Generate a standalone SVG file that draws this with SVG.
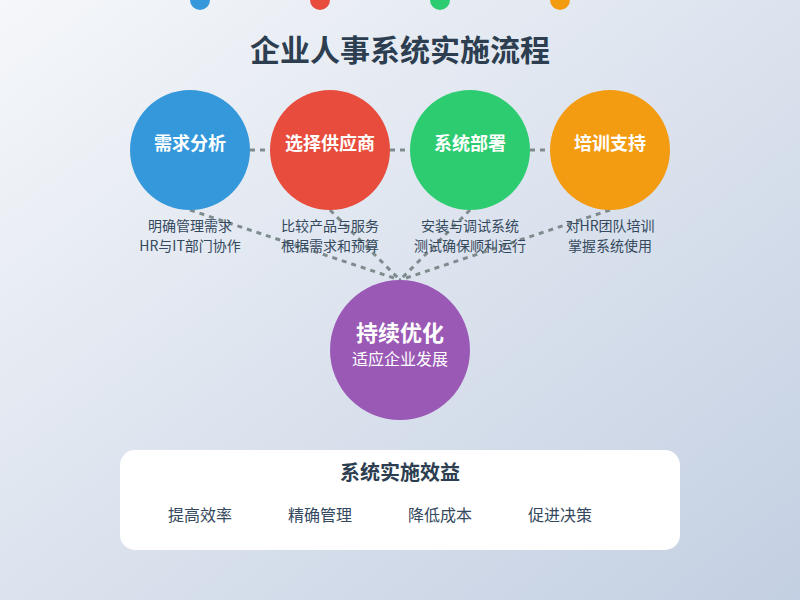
<svg xmlns="http://www.w3.org/2000/svg" width="800" height="600" viewBox="0 0 800 600">
<defs>
<linearGradient id="bg" x1="0" y1="0" x2="1" y2="1">
<stop offset="0" stop-color="#f5f7fa"/>
<stop offset="1" stop-color="#c3cfe2"/>
</linearGradient>
<style>
text{font-family:"Noto Sans CJK SC","Liberation Sans",sans-serif;text-anchor:middle}
.title{font-size:30px;font-weight:bold;fill:#2c3e50}
.nl{font-size:18px;font-weight:bold;fill:#fff}
.desc{font-size:14px;fill:#34495e}
.conn{stroke:#7f8c8d;stroke-width:3;stroke-dasharray:5,5;fill:none}
.bt{font-size:20px;font-weight:bold;fill:#2c3e50}
.bi{font-size:16px;fill:#34495e}
</style>
</defs>
<rect width="800" height="600" fill="url(#bg)"/>
<g id="dots">
<circle cx="200" cy="0" r="10" fill="#3498db"/>
<circle cx="320" cy="0" r="10" fill="#e74c3c"/>
<circle cx="440" cy="0" r="10" fill="#2ecc71"/>
<circle cx="560" cy="0" r="10" fill="#f39c12"/>
</g>
<text class="title" x="400" y="61">企业人事系统实施流程</text>
<g id="connectors">
<line class="conn" x1="190" y1="150" x2="610" y2="150"/>
<line class="conn" x1="190" y1="210" x2="400" y2="280"/>
<line class="conn" x1="330" y1="210" x2="400" y2="280"/>
<line class="conn" x1="470" y1="210" x2="400" y2="280"/>
<line class="conn" x1="610" y1="210" x2="400" y2="280"/>
</g>
<g id="n1">
<circle cx="190" cy="150" r="60" fill="#3498db"/>
<text class="nl" x="190" y="150">需求分析</text>
<text class="desc" x="190" y="231">明确管理需求</text>
<text class="desc" x="190" y="251">HR与IT部门协作</text>
</g>
<g id="n2">
<circle cx="330" cy="150" r="60" fill="#e74c3c"/>
<text class="nl" x="330" y="150">选择供应商</text>
<text class="desc" x="330" y="231">比较产品与服务</text>
<text class="desc" x="330" y="251">根据需求和预算</text>
</g>
<g id="n3">
<circle cx="470" cy="150" r="60" fill="#2ecc71"/>
<text class="nl" x="470" y="150">系统部署</text>
<text class="desc" x="470" y="231">安装与调试系统</text>
<text class="desc" x="470" y="251">测试确保顺利运行</text>
</g>
<g id="n4">
<circle cx="610" cy="150" r="60" fill="#f39c12"/>
<text class="nl" x="610" y="150">培训支持</text>
<text class="desc" x="610" y="231">对HR团队培训</text>
<text class="desc" x="610" y="251">掌握系统使用</text>
</g>
<g id="n5">
<circle cx="400" cy="350" r="70" fill="#9b59b6"/>
<text x="400" y="341" style="font-size:22px;font-weight:bold;fill:#fff">持续优化</text>
<text x="400" y="365" style="font-size:16px;fill:#fff">适应企业发展</text>
</g>
<g id="benefits">
<rect x="120" y="450" width="560" height="100" rx="15" fill="#fff"/>
<text class="bt" x="400" y="480">系统实施效益</text>
<text class="bi" x="200" y="521">提高效率</text>
<text class="bi" x="320" y="521">精确管理</text>
<text class="bi" x="440" y="521">降低成本</text>
<text class="bi" x="560" y="521">促进决策</text>
</g>
</svg>
